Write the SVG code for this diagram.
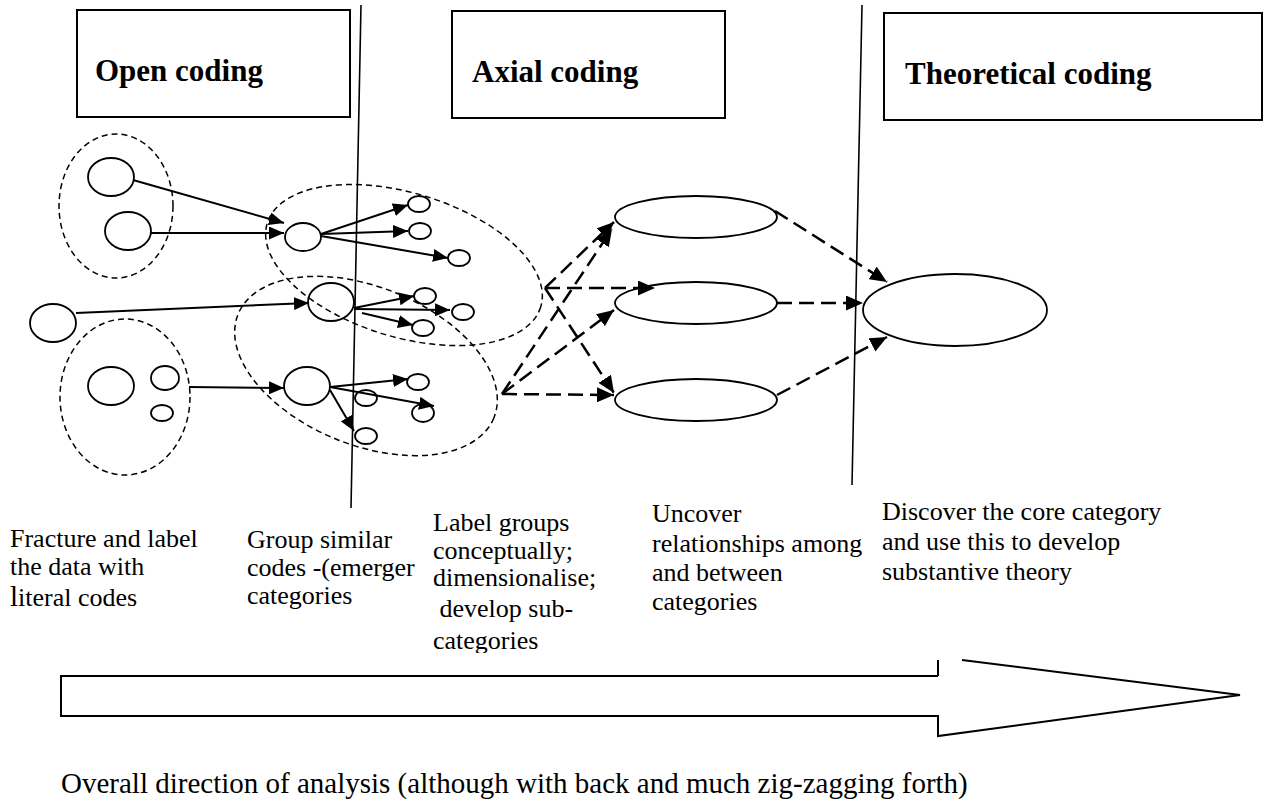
<svg xmlns="http://www.w3.org/2000/svg" width="1274" height="805" viewBox="0 0 1274 805">
  <style>
    .box{fill:#fff;stroke:#000;stroke-width:2}
    .title{font-family:"Liberation Serif","Times New Roman",serif;font-weight:bold;font-size:31px;fill:#000}
    .lbl{font-family:"Liberation Serif","Times New Roman",serif;font-size:26px;fill:#000}
    .caption{font-family:"Liberation Serif","Times New Roman",serif;font-size:29px;fill:#000}
    .node{fill:none;stroke:#000;stroke-width:1.8}
    .grp{fill:none;stroke:#000;stroke-width:1.5;stroke-dasharray:6 4}
    .sol{stroke:#000;stroke-width:2;fill:none;marker-end:url(#ah)}
    .dsh{stroke:#000;stroke-width:2.5;fill:none;stroke-dasharray:15 7;marker-end:url(#dah)}
    .divider{stroke:#000;stroke-width:1.6}
    .big{fill:none;stroke:#000;stroke-width:2}
  </style>
  <defs>
    <marker id="ah" markerUnits="userSpaceOnUse" markerWidth="17" markerHeight="13" refX="15" refY="6.5" orient="auto">
      <path d="M0,0 L15,6.5 L0,13 z" fill="#000"/>
    </marker>
    <marker id="dah" markerUnits="userSpaceOnUse" markerWidth="19" markerHeight="15" refX="17" refY="7.5" orient="auto">
      <path d="M0,0 L17,7.5 L0,15 z" fill="#000"/>
    </marker>
    <clipPath id="col3clip"><rect x="420" y="490" width="220" height="163"/></clipPath>
  </defs>

  <rect width="1274" height="805" fill="#fff"/>

  <!-- stage dividers -->
  <g id="dividers">
    <line class="divider" x1="361" y1="5" x2="351" y2="508"/>
    <line class="divider" x1="862" y1="5" x2="852" y2="485"/>
  </g>

  <!-- stage headings -->
  <g id="stage-open">
    <rect class="box" x="77" y="10" width="273" height="107"/>
    <text class="title" x="95" y="81">Open coding</text>
  </g>
  <g id="stage-axial">
    <rect class="box" x="452" y="11" width="273" height="107"/>
    <text class="title" x="472" y="82">Axial coding</text>
  </g>
  <g id="stage-theoretical">
    <rect class="box" x="884" y="13" width="378" height="107"/>
    <text class="title" x="905" y="84">Theoretical coding</text>
  </g>

  <!-- grouping outlines -->
  <g id="group-data-top"><ellipse class="grp" cx="116" cy="206" rx="57" ry="72"/></g>
  <g id="group-data-bottom"><ellipse class="grp" cx="125" cy="397" rx="65" ry="78"/></g>
  <g id="group-codes-top"><ellipse class="grp" cx="404" cy="265" rx="143" ry="72" transform="rotate(17 404 265)"/></g>
  <g id="group-codes-bottom"><ellipse class="grp" cx="366" cy="366" rx="138" ry="79" transform="rotate(22 366 366)"/></g>

  <!-- raw data fragments -->
  <g id="data-a"><ellipse class="node" cx="111" cy="177" rx="23" ry="19"/></g>
  <g id="data-b"><ellipse class="node" cx="128" cy="231" rx="23" ry="19"/></g>
  <g id="data-single"><ellipse class="node" cx="53" cy="323" rx="23" ry="19"/></g>
  <g id="data-c"><ellipse class="node" cx="111" cy="386" rx="23" ry="19"/></g>
  <g id="data-d"><ellipse class="node" cx="165" cy="378" rx="14" ry="12"/></g>
  <g id="data-e"><ellipse class="node" cx="162" cy="413" rx="11" ry="8"/></g>

  <!-- literal codes -->
  <g id="code-top"><ellipse class="node" cx="303" cy="237" rx="18" ry="14"/></g>
  <g id="code-mid"><ellipse class="node" cx="331" cy="302" rx="23" ry="19"/></g>
  <g id="code-bottom"><ellipse class="node" cx="307" cy="386" rx="23" ry="19"/></g>

  <g id="sub-top-1"><ellipse class="node" cx="419" cy="204" rx="11" ry="8"/></g>
  <g id="sub-top-2"><ellipse class="node" cx="420" cy="231" rx="11" ry="8"/></g>
  <g id="sub-top-3"><ellipse class="node" cx="459" cy="258" rx="11" ry="8"/></g>
  <g id="sub-mid-1"><ellipse class="node" cx="425" cy="296" rx="11" ry="8"/></g>
  <g id="sub-mid-2"><ellipse class="node" cx="463" cy="312" rx="11" ry="8"/></g>
  <g id="sub-mid-3"><ellipse class="node" cx="423" cy="328" rx="11" ry="8"/></g>
  <g id="sub-bot-1"><ellipse class="node" cx="418" cy="382" rx="11" ry="8"/></g>
  <g id="sub-bot-2"><ellipse class="node" cx="423" cy="413" rx="11" ry="9"/></g>
  <g id="sub-bot-3"><ellipse class="node" cx="366" cy="398" rx="11" ry="8"/></g>
  <g id="sub-bot-4"><ellipse class="node" cx="366" cy="436" rx="11" ry="8"/></g>

  <!-- categories -->
  <g id="cat-upper"><ellipse class="node" cx="696" cy="217" rx="81" ry="21"/></g>
  <g id="cat-middle"><ellipse class="node" cx="696" cy="303" rx="81" ry="21"/></g>
  <g id="cat-lower"><ellipse class="node" cx="696" cy="400" rx="81" ry="21"/></g>

  <!-- core category -->
  <g id="core"><ellipse class="node" cx="955" cy="310" rx="92" ry="36"/></g>

  <!-- connectors -->
  <g id="connectors">
    <line class="sol" x1="133" y1="180" x2="284" y2="223"/>
    <line class="sol" x1="151" y1="233" x2="284" y2="233"/>
    <line class="sol" x1="76" y1="313" x2="309" y2="303"/>
    <line class="sol" x1="189" y1="387" x2="284" y2="388"/>

    <line class="sol" x1="321" y1="234" x2="408" y2="205"/>
    <line class="sol" x1="321" y1="234" x2="408" y2="231"/>
    <line class="sol" x1="321" y1="236" x2="448" y2="258"/>

    <line class="sol" x1="354" y1="308" x2="414" y2="296"/>
    <line class="sol" x1="354" y1="309" x2="450" y2="310"/>
    <line class="sol" x1="362" y1="313" x2="413" y2="325"/>

    <line class="sol" x1="330" y1="387" x2="408" y2="379"/>
    <line class="sol" x1="330" y1="387" x2="434" y2="406"/>
    <line class="sol" x1="330" y1="390" x2="354" y2="431"/>

    <line class="dsh" x1="545" y1="288" x2="614" y2="222"/>
    <line class="dsh" x1="545" y1="288" x2="655" y2="288"/>
    <line class="dsh" x1="545" y1="288" x2="614" y2="393"/>
    <line class="dsh" x1="502" y1="394" x2="612" y2="229"/>
    <line class="dsh" x1="502" y1="394" x2="614" y2="310"/>
    <line class="dsh" x1="502" y1="394" x2="614" y2="395"/>

    <line class="dsh" x1="775" y1="211" x2="887" y2="282"/>
    <line class="dsh" x1="777" y1="303" x2="863" y2="303"/>
    <line class="dsh" x1="777" y1="395" x2="887" y2="337"/>
  </g>

  <!-- stage descriptions -->
  <g id="desc-open">
    <text class="lbl" x="10" y="547">Fracture and label</text>
    <text class="lbl" x="10" y="575">the data with</text>
    <text class="lbl" x="10" y="606"><tspan font-size="29">l</tspan>iteral codes</text>
  </g>
  <g id="desc-group">
    <text class="lbl" x="247" y="548">Group similar</text>
    <text class="lbl" x="247" y="576">codes -(emerger</text>
    <text class="lbl" x="247" y="604">categories</text>
  </g>
  <g id="desc-label" clip-path="url(#col3clip)">
    <text class="lbl" x="433" y="531">Label groups</text>
    <text class="lbl" x="433" y="559">conceptually;</text>
    <text class="lbl" x="433" y="586">dimensionalise;</text>
    <text class="lbl" x="433" y="617" xml:space="preserve"> develop sub-</text>
    <text class="lbl" x="433" y="649">categories</text>
  </g>
  <g id="desc-relate">
    <text class="lbl" x="652" y="522">Uncover</text>
    <text class="lbl" x="652" y="552">relationships among</text>
    <text class="lbl" x="652" y="581">and between</text>
    <text class="lbl" x="652" y="610">categories</text>
  </g>
  <g id="desc-core">
    <text class="lbl" x="882" y="520">Discover the core category</text>
    <text class="lbl" x="882" y="550">and use this to develop</text>
    <text class="lbl" x="882" y="580">substantive theory</text>
  </g>

  <!-- overall direction arrow -->
  <g id="direction-arrow">
    <path class="big" d="M938,676 H61 V716 H938 V736 L1240,695 L962,660"/>
    <path class="big" d="M938,660 V676"/>
  </g>
  <g id="direction-caption">
    <text class="caption" x="61" y="793">Overall direction of analysis (although with back and much zig-zagging forth)</text>
  </g>
</svg>
